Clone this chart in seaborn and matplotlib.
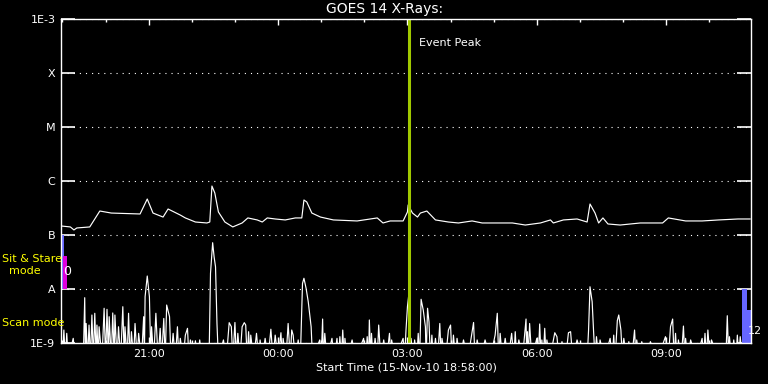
import numpy as np
import pandas as pd
import matplotlib
matplotlib.use("Agg")
import matplotlib.pyplot as plt
import matplotlib.dates as mdates
import seaborn as sns

# ---------------- data ----------------
START = pd.Timestamp("2010-11-15 18:58:00")
END_MIN = 960
EVENT_TIME = pd.Timestamp("2010-11-16 03:02:00")

# long channel (1-8 A), minutes since start, flux W/m^2
long_min = [0, 13, 18, 22, 40, 54, 70, 110, 120, 128, 142, 149, 166, 173, 187, 203, 207,
            210, 214, 219, 228, 239, 252, 260, 273, 280, 287, 298, 312, 326, 335, 338,
            342, 349, 361, 379, 412, 440, 448, 458, 476, 482, 483, 489, 496, 500, 509,
            521, 539, 553, 572, 586, 608, 628, 646, 667, 681, 685, 699, 718, 732, 736,
            743, 748, 754, 761, 778, 806, 823, 837, 845, 869, 892, 915, 942, 959]
long_flux = [1.47e-7, 1.41e-7, 1.24e-7, 1.35e-7, 1.41e-7, 2.78e-7, 2.55e-7, 2.45e-7,
             4.64e-7, 2.55e-7, 2.15e-7, 3.03e-7, 2.34e-7, 2.07e-7, 1.74e-7, 1.67e-7,
             1.74e-7, 8.07e-7, 6.0e-7, 2.67e-7, 1.74e-7, 1.41e-7, 1.67e-7, 2.07e-7,
             1.90e-7, 1.74e-7, 2.07e-7, 1.98e-7, 1.90e-7, 2.07e-7, 2.07e-7, 4.45e-7,
             4.08e-7, 2.55e-7, 2.15e-7, 1.90e-7, 1.82e-7, 2.07e-7, 1.67e-7, 1.82e-7,
             1.82e-7, 2.67e-7, 3.6e-7, 2.55e-7, 2.15e-7, 2.55e-7, 2.78e-7, 1.90e-7,
             1.74e-7, 1.67e-7, 1.82e-7, 1.67e-7, 1.67e-7, 1.67e-7, 1.53e-7, 1.67e-7,
             1.90e-7, 1.67e-7, 1.90e-7, 1.98e-7, 1.74e-7, 3.75e-7, 2.55e-7, 1.67e-7,
             2.07e-7, 1.60e-7, 1.53e-7, 1.67e-7, 1.67e-7, 1.67e-7, 2.07e-7, 1.82e-7,
             1.82e-7, 1.90e-7, 1.98e-7, 1.98e-7]

# short channel (0.5-4 A); D = reading below the plotted range
D = 5e-10
short_min = [0, 2, 4, 6, 8, 10, 17, 20, 31, 33, 34, 35, 37, 39, 41, 43, 45, 47, 49, 50, 52, 53,
             57, 60, 62, 64, 66, 67, 70, 72, 74, 75, 78, 80, 83, 86, 88, 89, 92, 94, 96, 98,
             101, 103, 106, 108, 112, 115, 116, 117, 120, 123, 125, 126, 129, 132, 135, 138,
             140, 143, 145, 147, 151, 153, 156, 159, 162, 164, 166, 170, 173, 176, 178, 180,
             184, 187, 190, 193, 196, 206, 208, 211, 213, 215, 217, 219, 226, 230, 234, 237,
             239, 242, 244, 246, 249, 252, 255, 257, 259, 261, 263, 264, 268, 272, 275, 277,
             280, 284, 288, 292, 295, 298, 302, 306, 308, 309, 313, 316, 319, 321, 323, 326,
             330, 333, 336, 338, 341, 344, 348, 350, 360, 362, 364, 365, 367, 370, 377, 380,
             384, 386, 388, 390, 392, 394, 395, 398, 405, 410, 421, 424, 426, 428, 429, 431,
             432, 434, 437, 440, 442, 445, 449, 453, 457, 459, 460, 465, 476, 478, 480, 482,
             484, 486, 487, 490, 492, 495, 497, 499, 501, 504, 507, 508, 510, 512, 514, 516,
             518, 521, 524, 527, 529, 530, 535, 539, 542, 544, 546, 549, 551, 555, 560, 566,
             572, 574, 576, 579, 584, 590, 597, 604, 607, 609, 611, 614, 618, 622, 627, 630,
             632, 634, 637, 642, 647, 648, 649, 650, 652, 655, 662, 664, 666, 668, 669, 671,
             673, 675, 676, 680, 687, 690, 693, 697, 702, 706, 709, 712, 718, 725, 732, 734,
             736, 739, 741, 743, 745, 748, 750, 756, 764, 767, 769, 771, 774, 776, 779, 781,
             783, 787, 790, 794, 798, 800, 801, 805, 808, 814, 820, 830, 841, 845, 848, 851,
             853, 855, 857, 859, 863, 866, 868, 869, 872, 876, 884, 892, 894, 896, 898, 900,
             903, 905, 915, 925, 927, 929, 930, 933, 936, 939, 941, 943, 945, 948, 955, 959]
short_flux = [1.2e-9, D, 1.74e-9, D, 1.51e-9, D, 1.22e-9, D, D, 6.9e-9, D, 2.3e-9, D, 2.15e-9,
              D, 3.3e-9, D, 3.55e-9, D, 2.15e-9, D, 2.0e-9, D, 4.4e-9, D, 4.2e-9, D, 3.07e-9,
              D, 3.6e-9, D, 3.3e-9, D, 2.0e-9, D, 4.7e-9, D, 2.0e-9, D, 3.55e-9, D, 1.62e-9,
              D, 2.3e-9, D, 1.51e-9, D, 3.07e-9, D, 7.2e-9, 1.74e-8, 7.2e-9, D, 2.0e-9, D,
              3.55e-9, D, 1.87e-9, D, 2.85e-9, D, 5.05e-9, 3.07e-9, D, 1.51e-9, D, 2.0e-9, D,
              1.22e-9, D, 1.4e-9, 1.87e-9, D, 1.14e-9, D, 1.1e-9, D, 1.14e-9, D, D, 1.95e-8,
              7.2e-8, 3.95e-8, 2.57e-8, 2.3e-9, D, 1.14e-9, D, 2.38e-9, 2.0e-9, D, 2.4e-9, D,
              1.51e-9, D, 2.0e-9, 2.38e-9, 2.15e-9, D, 1.62e-9, D, 1.4e-9, D, 1.51e-9, D,
              1.14e-9, D, 1.22e-9, D, 1.8e-9, D, 1.4e-9, D, 1.55e-9, D, 1.22e-9, D, 2.3e-9, D,
              1.74e-9, 1.4e-9, D, 1.14e-9, D, 1.27e-8, 1.58e-8, 1.03e-8, 5.8e-9, 2.0e-9, D,
              1.14e-9, D, 2.78e-9, D, 1.51e-9, D, 1.22e-9, D, 1.22e-9, D, 1.31e-9, D, 1.74e-9,
              D, 1.22e-9, D, 1.14e-9, D, 1.22e-9, D, 1.31e-9, D, 2.67e-9, D, 1.51e-9, D,
              1.22e-9, D, 2.15e-9, D, 1.14e-9, D, 1.51e-9, D, 1.14e-9, D, 1.22e-9, D, 1.74e-9,
              4.7e-9, 8.1e-9, D, 1.22e-9, D, 1.14e-9, D, 1.51e-9, D, 6.45e-9, 4.08e-9, 2.0e-9,
              D, 4.4e-9, 2.45e-9, D, 1.4e-9, D, 1.22e-9, D, 2.3e-9, D, 1.22e-9, D, 1.74e-9,
              2.15e-9, D, 1.4e-9, D, 1.22e-9, D, 1.14e-9, D, 1.62e-9, 2.4e-9, D, 1.14e-9, D,
              1.14e-9, D, 1.4e-9, 3.55e-9, D, 1.51e-9, D, 1.22e-9, D, 1.51e-9, D, 1.62e-9, D,
              1.14e-9, D, 2.78e-9, D, 1.62e-9, D, 2.3e-9, D, 1.22e-9, D, 2.25e-9, D, 1.14e-9,
              D, 1.87e-9, D, 1.14e-9, D, 1.55e-9, 1.31e-9, D, 1.06e-9, D, 1.55e-9, 1.62e-9, D,
              1.14e-9, D, D, 1.74e-9, 1.1e-8, 5.8e-9, 1.62e-9, D, 1.31e-9, D, 1.14e-9, D,
              1.22e-9, D, 1.4e-9, D, 2.6e-9, 3.3e-9, 1.74e-9, D, 1.22e-9, D, 1.06e-9, D,
              1.74e-9, D, 1.14e-9, D, 1.06e-9, D, 1.06e-9, D, 1.31e-9, D, 2.0e-9, 2.78e-9, D,
              1.51e-9, D, 1.14e-9, D, 2.06e-9, D, 1.22e-9, D, 1.14e-9, D, 1.22e-9, D, 1.51e-9,
              D, 1.74e-9, D, 1.14e-9, D, D, 3.2e-9, D, 1.31e-9, D, 1.14e-9, D, 1.4e-9, D,
              1.31e-9, D, 1.2e-9, D]

# instrument mode indicator bars
mode_start_min = [2, 3, 947, 954]
mode_end_min = [4.5, 8, 954, 959.5]
mode_low = [1e-8, 1e-8, 1e-9, 1e-9]
mode_high = [1e-7, 4.1e-8, 1e-8, 4.1e-9]
mode_colors = ["#6666ff", "#dd00dd", "#6666ff", "#6666ff"]

ytick_vals = [1e-9, 1e-8, 1e-7, 1e-6, 1e-5, 1e-4, 1e-3]
ytick_labels = ["1E-9", "A", "B", "C", "M", "X", "1E-3"]

# ---------------- figure ----------------
sns.set_theme(style="dark")
plt.rcParams.update({
    "font.family": ["DejaVu Sans"],
    "figure.facecolor": "black",
    "axes.facecolor": "black",
    "axes.edgecolor": "white",
    "text.color": "white",
    "xtick.color": "white",
    "ytick.color": "white",
    "axes.labelcolor": "white",
})

fig = plt.figure(figsize=(7.68, 3.84), dpi=100)
ax = fig.add_axes([61 / 768, 1 - 343 / 384, 690 / 768, 324 / 384])
ax.set_facecolor("black")

long_df = pd.DataFrame({"time": START + pd.to_timedelta(long_min, unit="min"), "flux": long_flux})
short_df = pd.DataFrame({"time": START + pd.to_timedelta(short_min, unit="min"), "flux": short_flux})

sns.lineplot(data=long_df, x="time", y="flux", ax=ax, color="white", lw=0.85,
             estimator=None, sort=False, zorder=3)
sns.lineplot(data=short_df, x="time", y="flux", ax=ax, color="white", lw=0.85,
             estimator=None, sort=False, zorder=3)

ax.set_yscale("log")
ax.set_ylim(1e-9, 1e-3)
ax.set_xlim(START, START + pd.Timedelta(minutes=END_MIN))

# mode bars
for s, e, lo, hi, c in zip(mode_start_min, mode_end_min, mode_low, mode_high, mode_colors):
    xs = [START + pd.Timedelta(minutes=s), START + pd.Timedelta(minutes=e)]
    ax.fill_between(xs, [lo, lo], [hi, hi], color=c, lw=0, zorder=4)

# event line
ax.axvline(EVENT_TIME, color="#a0c800", lw=2.2, zorder=5)
ax.text(EVENT_TIME + pd.Timedelta(minutes=14), 10 ** (-9 + 300 / 54), "Event Peak",
        color="white", fontsize=8, va="center", ha="left")

# grid
ax.set_yticks(ytick_vals)
ax.set_yticklabels(ytick_labels)
ax.yaxis.set_minor_locator(matplotlib.ticker.NullLocator())
ax.grid(axis="y", which="major", color="white", lw=0.8, linestyle=(0, (1, 4.5)), zorder=1)
ax.grid(axis="x", visible=False)

ax.tick_params(axis="y", which="major", direction="in", length=10, width=1.2,
               left=True, right=True, labelsize=8, pad=4, colors="white")
ax.xaxis.set_major_locator(mdates.HourLocator(byhour=range(0, 24, 3)))
ax.xaxis.set_minor_locator(mdates.HourLocator())
ax.xaxis.set_major_formatter(mdates.DateFormatter("%H:%M"))
ax.tick_params(axis="x", which="major", direction="in", length=4.5, width=1,
               top=True, bottom=True, labelsize=8, pad=4, colors="white")
ax.tick_params(axis="x", which="minor", direction="in", length=2.3, width=1,
               top=True, bottom=True)
for sp in ax.spines.values():
    sp.set_color("white")
    sp.set_linewidth(1.0)
    sp.set_zorder(6)

ax.set_xlabel("Start Time (15-Nov-10 18:58:00)", fontsize=8, labelpad=3)
ax.set_ylabel("")
fig.text(385 / 768, 1 - 9 / 384, "GOES 14 X-Rays:", ha="center", va="center",
         fontsize=10, color="white")

# mode labels
fig.text(2 / 768, 1 - 259 / 384, "Sit & Stare", color="yellow", fontsize=8,
         ha="left", va="center", zorder=10)
fig.text(25 / 768, 1 - 271 / 384, "mode", color="yellow", fontsize=8,
         ha="center", va="center", zorder=10)
fig.text(2 / 768, 1 - 323 / 384, "Scan mode", color="yellow", fontsize=8,
         ha="left", va="center", zorder=10)
ax.text(START + pd.Timedelta(minutes=9), 2.07e-8, "0", color="white", fontsize=9,
        ha="center", va="center", zorder=7)
ax.text(START + pd.Timedelta(minutes=965), 1.7e-9, "12", color="white", fontsize=8,
        ha="center", va="center", zorder=7, clip_on=False)

fig.savefig("out.png", dpi=100, facecolor="black")
